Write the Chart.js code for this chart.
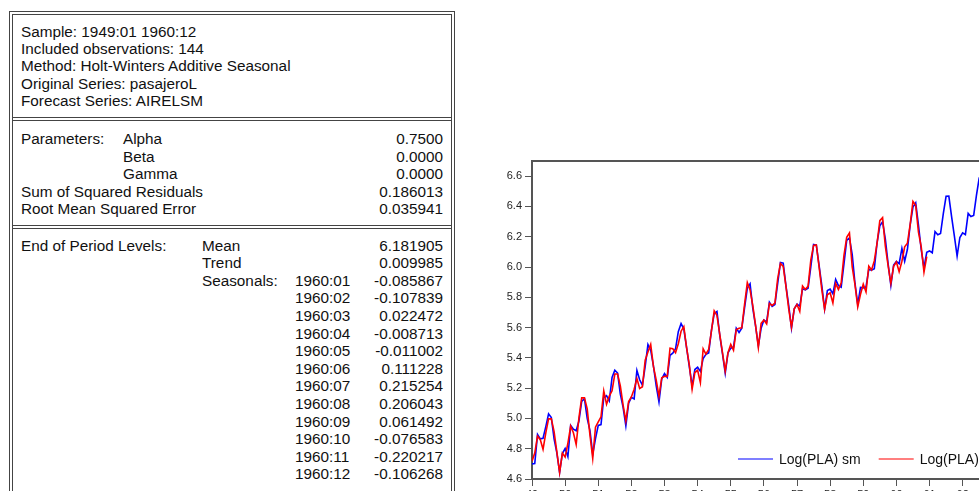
<!DOCTYPE html>
<html>
<head>
<meta charset="utf-8">
<script src="https://cdn.jsdelivr.net/npm/chart.js@4.4.1/dist/chart.umd.min.js"></script>
<style>
  html, body { margin: 0; padding: 0; background: #fff; overflow: hidden; width: 979px; height: 491px; }
  body { position: relative; font-family: "Liberation Sans", Arial, sans-serif; color: #111; }
  .tbl { position: absolute; left: 0; top: 0; width: 470px; height: 491px; font-size: 15.3px; }
  .frame { position: absolute; box-sizing: border-box; border: 1px solid #444; }
  .outer { left: 9px; top: 11px; width: 446px; height: 520px; }
  .inner { left: 12px; top: 14px; width: 440px; height: 520px; }
  .rule { position: absolute; left: 12px; width: 440px; height: 0; border-top: 1px solid #444; }
  .row { position: absolute; left: 0; width: 470px; height: 18px; line-height: 18px; }
  .row span { position: absolute; top: 0; white-space: nowrap; }
  .c1 { left: 21px; } .c2 { left: 123px; } .c3 { left: 202px; } .c4 { left: 295px; }
  .v { right: 27px; }
  #chartBox { position: absolute; left: 480px; top: 150px; width: 540px; height: 360px; }
</style>
</head>
<body>
<div class="tbl">
  <div class="frame outer"></div>
  <div class="frame inner"></div>
  <div class="rule" style="top:117px"></div>
  <div class="rule" style="top:120px"></div>
  <div class="rule" style="top:225px"></div>
  <div class="rule" style="top:228px"></div>

  <div class="row" style="top:22.5px"><span class="c1">Sample: 1949:01 1960:12</span></div>
  <div class="row" style="top:39.9px"><span class="c1">Included observations: 144</span></div>
  <div class="row" style="top:57.3px"><span class="c1">Method: Holt-Winters Additive Seasonal</span></div>
  <div class="row" style="top:74.7px"><span class="c1">Original Series: pasajeroL</span></div>
  <div class="row" style="top:92.1px"><span class="c1">Forecast Series: AIRELSM</span></div>

  <div class="row" style="top:130px"><span class="c1">Parameters:</span><span class="c2">Alpha</span><span class="v">0.7500</span></div>
  <div class="row" style="top:147.6px"><span class="c2">Beta</span><span class="v">0.0000</span></div>
  <div class="row" style="top:165.2px"><span class="c2">Gamma</span><span class="v">0.0000</span></div>
  <div class="row" style="top:182.8px"><span class="c1">Sum of Squared Residuals</span><span class="v">0.186013</span></div>
  <div class="row" style="top:200.4px"><span class="c1">Root Mean Squared Error</span><span class="v">0.035941</span></div>

  <div class="row" style="top:236.5px"><span class="c1">End of Period Levels:</span><span class="c3">Mean</span><span class="v">6.181905</span></div>
  <div class="row" style="top:254.1px"><span class="c3">Trend</span><span class="v">0.009985</span></div>
  <div class="row" style="top:271.7px"><span class="c3">Seasonals:</span><span class="c4">1960:01</span><span class="v">-0.085867</span></div>
  <div class="row" style="top:289.3px"><span class="c4">1960:02</span><span class="v">-0.107839</span></div>
  <div class="row" style="top:306.9px"><span class="c4">1960:03</span><span class="v">0.022472</span></div>
  <div class="row" style="top:324.5px"><span class="c4">1960:04</span><span class="v">-0.008713</span></div>
  <div class="row" style="top:342.1px"><span class="c4">1960:05</span><span class="v">-0.011002</span></div>
  <div class="row" style="top:359.7px"><span class="c4">1960:06</span><span class="v">0.111228</span></div>
  <div class="row" style="top:377.3px"><span class="c4">1960:07</span><span class="v">0.215254</span></div>
  <div class="row" style="top:394.9px"><span class="c4">1960:08</span><span class="v">0.206043</span></div>
  <div class="row" style="top:412.5px"><span class="c4">1960:09</span><span class="v">0.061492</span></div>
  <div class="row" style="top:430.1px"><span class="c4">1960:10</span><span class="v">-0.076583</span></div>
  <div class="row" style="top:447.7px"><span class="c4">1960:11</span><span class="v">-0.220217</span></div>
  <div class="row" style="top:465.3px"><span class="c4">1960:12</span><span class="v">-0.106268</span></div>
</div>

<div id="chartBox"><canvas id="chart" width="540" height="360"></canvas></div>

<script>
// Series mensuelles, index 0 = 1949:01
var logPla = [
  4.718, 4.771, 4.883, 4.860, 4.796, 4.905, 4.997, 4.997, 4.913, 4.779, 4.644, 4.771,
  4.745, 4.836, 4.949, 4.905, 4.828, 5.004, 5.136, 5.136, 5.063, 4.890, 4.736, 4.942,
  4.977, 5.011, 5.182, 5.094, 5.147, 5.182, 5.293, 5.293, 5.215, 5.088, 4.984, 5.112,
  5.142, 5.193, 5.263, 5.198, 5.209, 5.384, 5.438, 5.489, 5.342, 5.252, 5.147, 5.268,
  5.278, 5.278, 5.464, 5.460, 5.434, 5.493, 5.576, 5.606, 5.468, 5.352, 5.193, 5.303,
  5.318, 5.236, 5.460, 5.425, 5.455, 5.576, 5.710, 5.680, 5.557, 5.434, 5.313, 5.434,
  5.489, 5.451, 5.587, 5.595, 5.598, 5.753, 5.897, 5.849, 5.743, 5.613, 5.468, 5.628,
  5.649, 5.624, 5.759, 5.746, 5.762, 5.924, 6.023, 6.004, 5.872, 5.724, 5.602, 5.724,
  5.753, 5.707, 5.875, 5.852, 5.872, 6.045, 6.142, 6.146, 6.001, 5.849, 5.720, 5.817,
  5.829, 5.762, 5.892, 5.852, 5.894, 6.075, 6.196, 6.225, 6.001, 5.883, 5.737, 5.820,
  5.886, 5.835, 6.006, 5.981, 6.040, 6.157, 6.306, 6.326, 6.138, 6.009, 5.892, 6.004,
  6.033, 5.969, 6.038, 6.133, 6.157, 6.282, 6.433, 6.407, 6.230, 6.133, 5.966, 6.068
];

// Lissage Holt-Winters (in-sample) puis prévision 1961-1962
var logPlaSm = [
  4.700, 4.702, 4.894, 4.865, 4.869, 4.946, 5.030, 5.006, 4.865, 4.773, 4.644, 4.768,
  4.801, 4.747, 4.954, 4.929, 4.919, 4.983, 5.113, 5.131, 5.000, 4.919, 4.764, 4.867,
  4.954, 4.959, 5.138, 5.150, 5.116, 5.271, 5.319, 5.300, 5.160, 5.073, 4.951, 5.100,
  5.139, 5.129, 5.317, 5.255, 5.220, 5.344, 5.488, 5.451, 5.345, 5.215, 5.109, 5.261,
  5.297, 5.271, 5.417, 5.431, 5.460, 5.573, 5.627, 5.590, 5.467, 5.340, 5.215, 5.323,
  5.338, 5.311, 5.395, 5.423, 5.432, 5.582, 5.692, 5.706, 5.552, 5.428, 5.299, 5.433,
  5.464, 5.471, 5.596, 5.568, 5.596, 5.730, 5.861, 5.889, 5.725, 5.610, 5.479, 5.595,
  5.650, 5.637, 5.768, 5.740, 5.752, 5.892, 6.030, 6.026, 5.875, 5.745, 5.596, 5.724,
  5.755, 5.742, 5.856, 5.849, 5.859, 6.001, 6.148, 6.144, 6.011, 5.875, 5.722, 5.844,
  5.854, 5.823, 5.918, 5.877, 5.866, 6.019, 6.175, 6.192, 6.082, 5.893, 5.752, 5.865,
  5.862, 5.868, 5.984, 5.979, 5.988, 6.159, 6.272, 6.298, 6.185, 6.022, 5.879, 6.013,
  6.037, 6.022, 6.123, 6.038, 6.117, 6.279, 6.395, 6.424, 6.277, 6.114, 5.995, 6.097,
  6.106, 6.094, 6.234, 6.213, 6.221, 6.353, 6.467, 6.468, 6.333, 6.205, 6.072, 6.195,
  6.226, 6.214, 6.354, 6.333, 6.341, 6.473, 6.587, 6.588, 6.453, 6.325, 6.191, 6.315
];

var xTickPos = [0, 12, 24, 36, 48, 60, 72, 84, 96, 108, 120, 132, 144, 156];
var xTickLabels = ["49", "50", "51", "52", "53", "54", "55", "56", "57", "58", "59", "60", "61", "62"];
var yTicks = [4.6, 4.8, 5.0, 5.2, 5.4, 5.6, 5.8, 6.0, 6.2, 6.4, 6.6];

var axisColor = "#555";
var tickFont = { family: "'Liberation Sans', Arial, sans-serif", size: 11 };

function toPoints(arr) {
  return arr.map(function (v, i) { return { x: i, y: v }; });
}

// cadre haut/droite du graphique (gauche et bas = bordures des axes)
var framePlugin = {
  id: "frame",
  afterDraw: function (chart) {
    var a = chart.chartArea, ctx = chart.ctx;
    ctx.save();
    ctx.strokeStyle = axisColor;
    ctx.lineWidth = 2;
    ctx.beginPath();
    ctx.moveTo(a.left, a.top);
    ctx.lineTo(a.right, a.top);
    ctx.lineTo(a.right, a.bottom);
    ctx.stroke();
    ctx.restore();
  }
};

// légende dans la zone de tracé, en bas à droite comme EViews
var legendPlugin = {
  id: "inlineLegend",
  afterDatasetsDraw: function (chart) {
    var a = chart.chartArea, ctx = chart.ctx;
    var x = a.left + 206;
    var y = a.bottom - 20;
    ctx.save();
    ctx.font = "14px 'Liberation Sans', Arial, sans-serif";
    ctx.textBaseline = "middle";
    chart.data.datasets.forEach(function (ds) {
      ctx.strokeStyle = ds.borderColor;
      ctx.lineWidth = 1.2;
      ctx.beginPath();
      ctx.moveTo(x, y);
      ctx.lineTo(x + 35, y);
      ctx.stroke();
      ctx.fillStyle = "#111";
      ctx.fillText(ds.label, x + 41, y + 1);
      x += 41 + ctx.measureText(ds.label).width + 18;
    });
    ctx.restore();
  }
};

new Chart(document.getElementById("chart"), {
  type: "line",
  data: {
    datasets: [
      { label: "Log(PLA) sm", data: toPoints(logPlaSm), borderColor: "#0000ff", borderWidth: 1.6, pointRadius: 0, tension: 0, order: 2 },
      { label: "Log(PLA)", data: toPoints(logPla), borderColor: "#ff0000", borderWidth: 1.6, pointRadius: 0, tension: 0, order: 1 }
    ]
  },
  options: {
    responsive: false,
    animation: false,
    layout: { padding: { top: 11, right: 27, bottom: 0, left: 0 } },
    plugins: { legend: { display: false }, tooltip: { enabled: false } },
    scales: {
      x: {
        type: "linear",
        min: 0,
        max: 167,
        afterFit: function (s) { s.height = 31; },
        afterBuildTicks: function (s) { s.ticks = xTickPos.map(function (v) { return { value: v }; }); },
        ticks: {
          autoSkip: false, maxRotation: 0, padding: 2, color: "#222", font: tickFont,
          callback: function (v, i) { return xTickLabels[i]; }
        },
        grid: { drawOnChartArea: false, drawTicks: true, tickLength: 7, color: axisColor, lineWidth: 1 },
        border: { display: true, color: axisColor, width: 2 }
      },
      y: {
        min: 4.6,
        max: 6.7,
        afterFit: function (s) { s.width = 52; },
        afterBuildTicks: function (s) { s.ticks = yTicks.map(function (v) { return { value: v }; }); },
        ticks: {
          padding: 3, color: "#222", font: tickFont,
          callback: function (v) { return v.toFixed(1); }
        },
        grid: { drawOnChartArea: false, drawTicks: true, tickLength: 7, color: axisColor, lineWidth: 1 },
        border: { display: true, color: axisColor, width: 2 }
      }
    }
  },
  plugins: [framePlugin, legendPlugin]
});
</script>
</body>
</html>
